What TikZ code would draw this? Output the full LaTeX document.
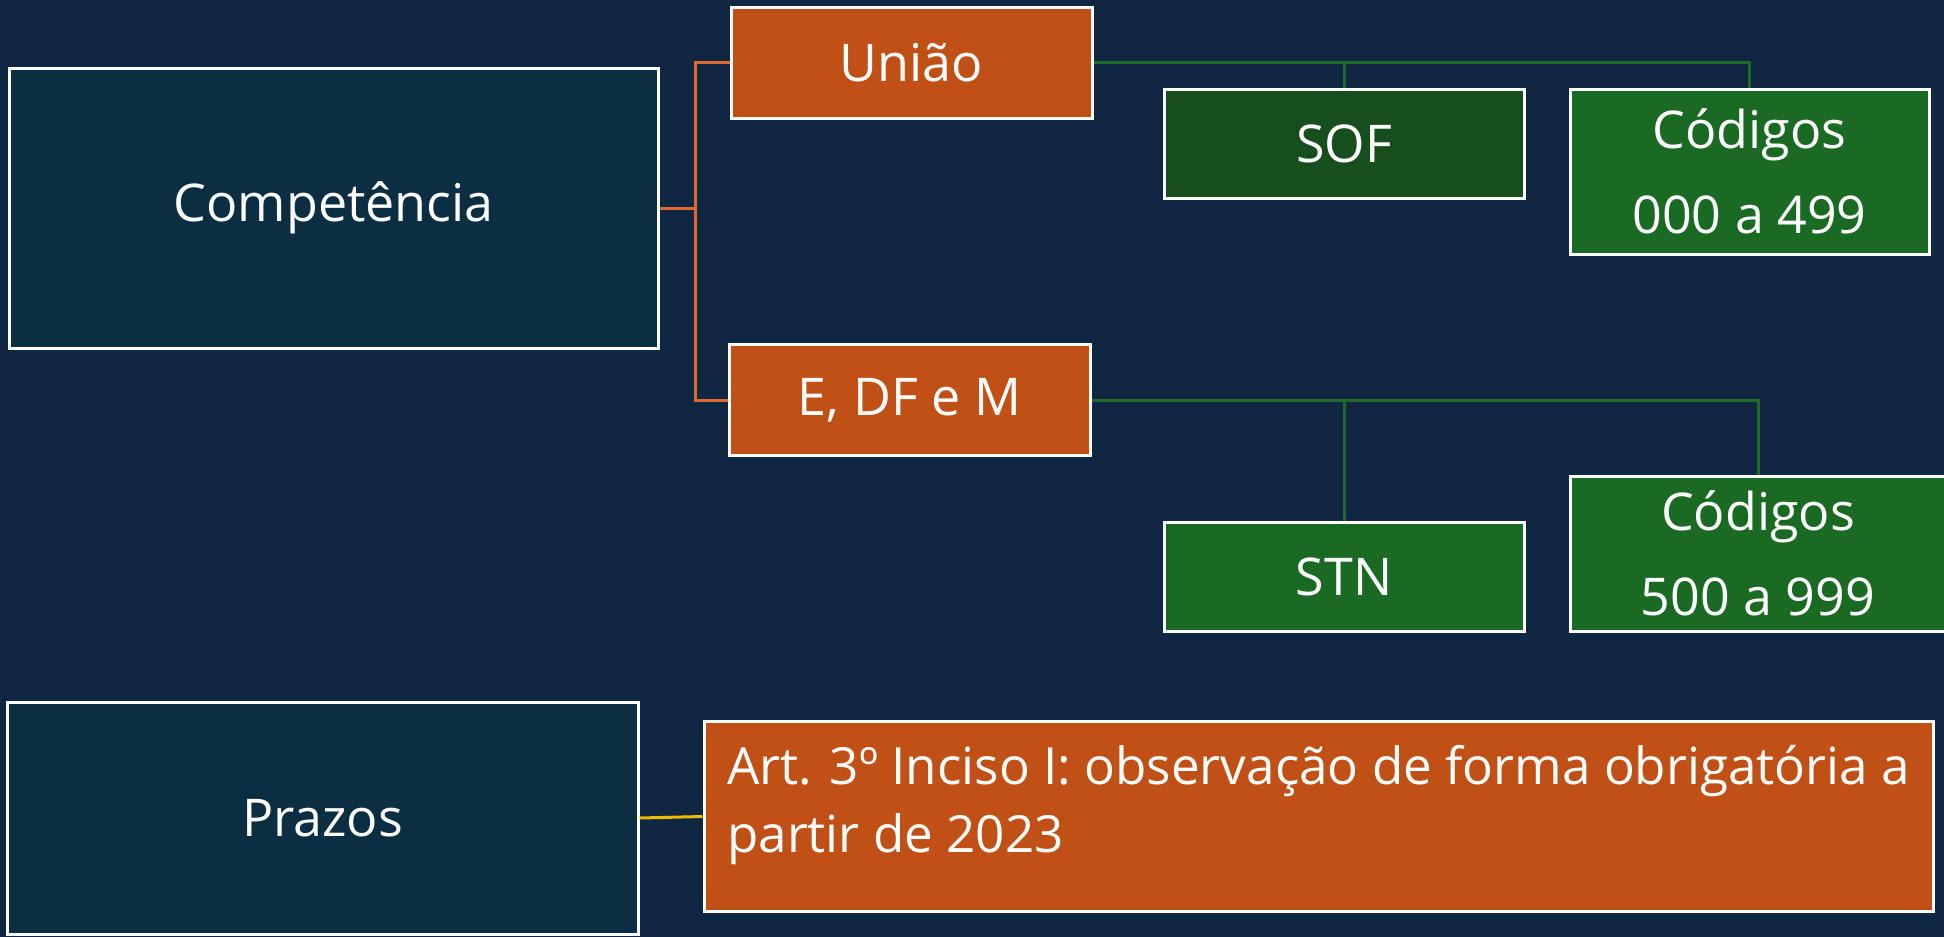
\documentclass[tikz,border=0pt]{standalone}
\usepackage{fontspec}
\setmainfont{Open Sans}
\usetikzlibrary{positioning, calc}

\definecolor{fundo}{HTML}{0F2742}
\definecolor{azul}{HTML}{0C2E42}
\definecolor{laranja}{HTML}{C05016}
\definecolor{verdeesc}{HTML}{164E1E}
\definecolor{verde}{HTML}{1B6A23}
\definecolor{linhalar}{HTML}{E2692E}
\definecolor{linhaver}{HTML}{1F6B26}
\definecolor{linhaam}{HTML}{F2B700}

\begin{document}
\begin{tikzpicture}[x=0.5pt, y=-0.5pt,
    caixa/.style={draw=white, line width=1.5pt, text=white, inner sep=0pt,
        font=\fontsize{26}{42.5}\selectfont, align=center},
    tema/.style={caixa, fill=azul},
    ramo/.style={caixa, fill=laranja, minimum width=180.5pt, minimum height=55.5pt},
    folha/.style={caixa, fill=verde, minimum width=180pt},
    ligalar/.style={draw=linhalar, line width=1.5pt},
    ligaver/.style={draw=linhaver, line width=1.5pt},
    ligaam/.style={draw=linhaam, line width=1.5pt}
]
    \useasboundingbox (0,0) rectangle (1944,937);
    \fill[fundo] (0,0) rectangle (1944,937);

    \node[tema, minimum width=324.5pt, minimum height=140pt] (comp) at (333.5,208) {Competência};
    \node[ramo] (uniao) at (911.5,62.5) {União};
    \node[ramo] (edfm) at (909.5,400) {E, DF e M};
    \node[folha, fill=verdeesc, minimum height=54.5pt] (sof) at (1344,143.5) {SOF};
    \node[folha, minimum width=179.5pt, minimum height=82.5pt] (cod1) at (1749.5,171.5) {Códigos\\000 a 499};
    \node[folha, minimum height=54.5pt] (stn) at (1344,576.5) {STN};
    \node[folha, minimum width=188pt, minimum height=77.5pt] (cod2) at (1758,553.5) {Códigos\\500 a 999};

    \node[tema, minimum width=315.5pt, minimum height=116pt] (prazos) at (322.5,818) {Prazos};
    \node[caixa, fill=laranja, align=left, font=\fontsize{25.6}{34}\selectfont, text depth=18pt,
        minimum width=614.5pt, minimum height=95pt] (art) at (1318.5,816.5)
        {Art. 3º Inciso I: observação de forma obrigatória a\\partir de 2023};

    \draw[ligalar] (comp.east) -- ++(36,0) |- (uniao.west);
    \draw[ligalar] (comp.east) -- ++(36,0) |- (edfm.west);

    \draw[ligaver] (uniao.east) -| (cod1.north);
    \draw[ligaver] (sof.north) |- (uniao.east);
    \draw[ligaver] (edfm.east) -| (cod2.north);
    \draw[ligaver] (stn.north) |- (edfm.east);

    \draw[ligaam] (prazos.east) -- (art.west);
\end{tikzpicture}
\end{document}
